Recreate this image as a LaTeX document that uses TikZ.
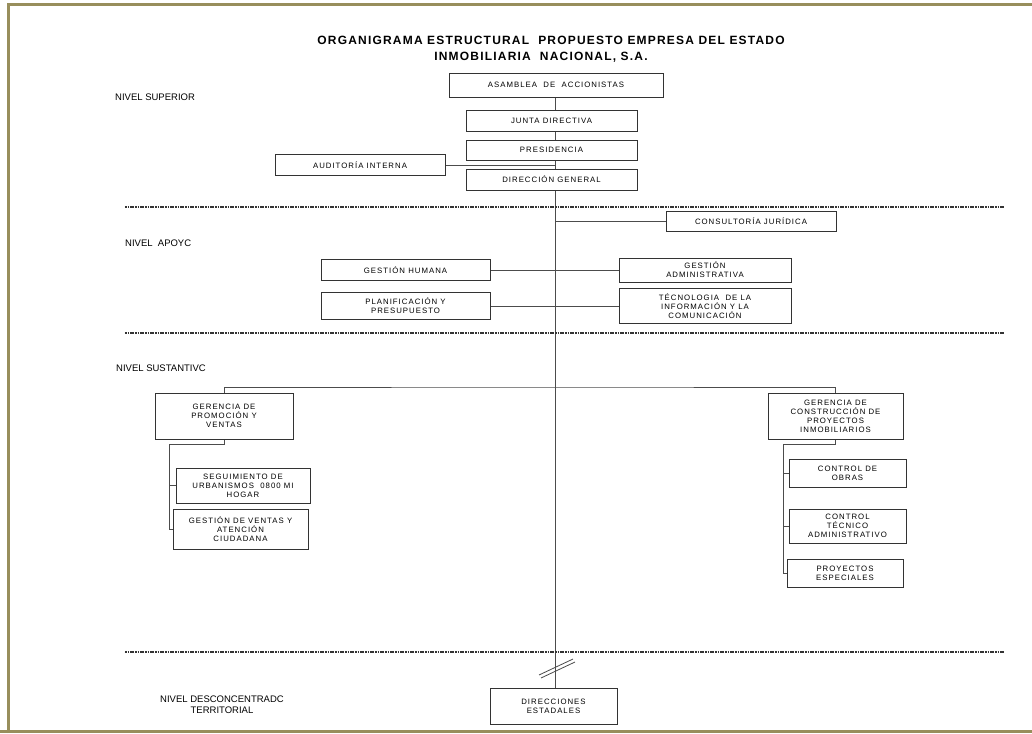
\documentclass[tikz,border=0pt]{standalone}
\usepackage{fontspec}
\setmainfont{Liberation Sans}
\newfontfamily\cajafont[LetterSpace=13]{Liberation Sans}
\newfontfamily\titulofont[LetterSpace=10]{Liberation Sans}
\usetikzlibrary{positioning,backgrounds}
\definecolor{oliva}{RGB}{152,142,92}

\begin{document}
\begin{tikzpicture}[x=1pt,y=-1pt,
  caja/.style={draw=black!80,fill=white,line width=0.9pt,inner sep=1pt,align=center,font=\cajafont\fontsize{7.8}{9}\selectfont},
  nivel/.style={anchor=west,inner sep=0pt,font=\fontsize{9.5}{11}\selectfont},
  linea/.style={draw=black!70,line width=0.8pt},
  separador/.style={draw=black!80,line width=1.6pt,dash pattern=on 1.5pt off 1pt on 1.5pt off 1pt on 4pt off 1pt}]
\useasboundingbox (0,0) rectangle (1032,733);

% marco
\draw[oliva,line width=3pt] (8.5,733) -- (8.5,4.5) -- (1032,4.5);
\draw[oliva,line width=2.5pt] (0,731.5) -- (1032,731.5);

% titulo
\node[font=\titulofont\bfseries\fontsize{12}{14}\selectfont] (titulo1) at (551,40) {ORGANIGRAMA ESTRUCTURAL\ \ PROPUESTO EMPRESA DEL ESTADO};
\node[font=\titulofont\bfseries\fontsize{12}{14}\selectfont] (titulo2) at (541,57) {INMOBILIARIA\ \ NACIONAL, S.A.};

% niveles
\node[nivel] (superior) at (115,97) {NIVEL SUPERIOR};
\node[nivel] (apoyo) at (125,243) {NIVEL\ \ APOYC};
\node[nivel] (sustantivo) at (116,368) {NIVEL SUSTANTIVC};
\node[nivel,anchor=center,align=center] (desconcentrado) at (222,705) {NIVEL DESCONCENTRADC\\TERRITORIAL};

\foreach \y in {207,333,652}
  \draw[separador] (125,\y) -- (1005,\y);

% nivel superior
\node[caja,minimum width=214pt,minimum height=24pt] (asamblea) at (556,85) {ASAMBLEA\ \ DE\ \ ACCIONISTAS};
\node[caja,minimum width=171pt,minimum height=21pt] (junta) at (551.5,120.5) {JUNTA DIRECTIVA};
\node[caja,minimum width=171pt,minimum height=20pt] (presidencia) at (551.5,150) {PRESIDENCIA};
\node[caja,minimum width=170pt,minimum height=21pt] (auditoria) at (360,165) {AUDITORÍA INTERNA};
\node[caja,minimum width=171pt,minimum height=21pt] (direccion) at (551.5,179.5) {DIRECCIÓN GENERAL};

% nivel apoyo
\node[caja,minimum width=170pt,minimum height=20pt] (consultoria) at (751,221) {CONSULTORÍA JURÍDICA};
\node[caja,minimum width=169pt,minimum height=21pt] (humana) at (405.5,270) {GESTIÓN HUMANA};
\node[caja,minimum width=172pt,minimum height=24pt] (admin) at (705,270) {GESTIÓN\\ADMINISTRATIVA};
\node[caja,minimum width=169pt,minimum height=27pt] (planif) at (405.5,306) {PLANIFICACIÓN Y\\PRESUPUESTO};
\node[caja,minimum width=172pt,minimum height=35pt] (tecno) at (705,306) {TÉCNOLOGIA\ \ DE LA\\INFORMACIÓN Y LA\\COMUNICACIÓN};

% nivel sustantivo
\node[caja,minimum width=138pt,minimum height=46pt] (promocion) at (224,416) {GERENCIA DE\\PROMOCIÓN Y\\VENTAS};
\node[caja,minimum width=135pt,minimum height=46pt] (construccion) at (835.5,416) {GERENCIA DE\\CONSTRUCCIÓN DE\\PROYECTOS\\INMOBILIARIOS};
\node[caja,minimum width=134pt,minimum height=35pt] (seguimiento) at (243,485.5) {SEGUIMIENTO DE\\URBANISMOS\ \ 0800 MI\\HOGAR};
\node[caja,minimum width=135pt,minimum height=40pt] (ventas) at (240.5,529) {GESTIÓN DE VENTAS Y\\ATENCIÓN\\CIUDADANA};
\node[caja,minimum width=117pt,minimum height=28pt] (obras) at (847.5,473) {CONTROL DE\\OBRAS};
\node[caja,minimum width=117pt,minimum height=34pt] (tecnico) at (847.5,526) {CONTROL\\TÉCNICO\\ADMINISTRATIVO};
\node[caja,minimum width=116pt,minimum height=28pt] (especiales) at (845,573) {PROYECTOS\\ESPECIALES};

% nivel desconcentrado
\node[caja,minimum width=127pt,minimum height=36pt] (direcciones) at (553.5,706) {DIRECCIONES\\ESTADALES};

% conectores
\begin{scope}[on background layer]
\coordinate (eje) at (555,0);
\draw[linea] (asamblea.south -| eje) -- (direcciones.north -| eje);
\draw[linea] (auditoria.east) -- (auditoria.east -| eje);
\draw[linea] (consultoria.west) -- (consultoria.west -| eje);
\draw[linea] (humana.east) -- (admin.west);
\draw[linea] (planif.east) -- (tecno.west);

\coordinate (ramal) at (555,387);
\draw[linea] (promocion.north) |- (ramal) -| (construccion.north);

\coordinate (izq) at (169,444);
\draw[linea] (promocion.south) |- (izq) -- (izq |- ventas.west) -- (ventas.west);
\draw[linea] (izq |- seguimiento.west) -- (seguimiento.west);

\coordinate (der) at (783,444);
\draw[linea] (construccion.south) |- (der) -- (der |- especiales.west) -- (especiales.west);
\draw[linea] (der |- obras.west) -- (obras.west);
\draw[linea] (der |- tecnico.west) -- (tecnico.west);

% corte
\coordinate (corte) at (556,666);
\draw[linea] ([shift={(-17,9)}]corte) -- ([shift={(17,-7)}]corte);
\draw[linea] ([shift={(-15,12)}]corte) -- ([shift={(19,-4)}]corte);
\end{scope}
\end{tikzpicture}
\end{document}
